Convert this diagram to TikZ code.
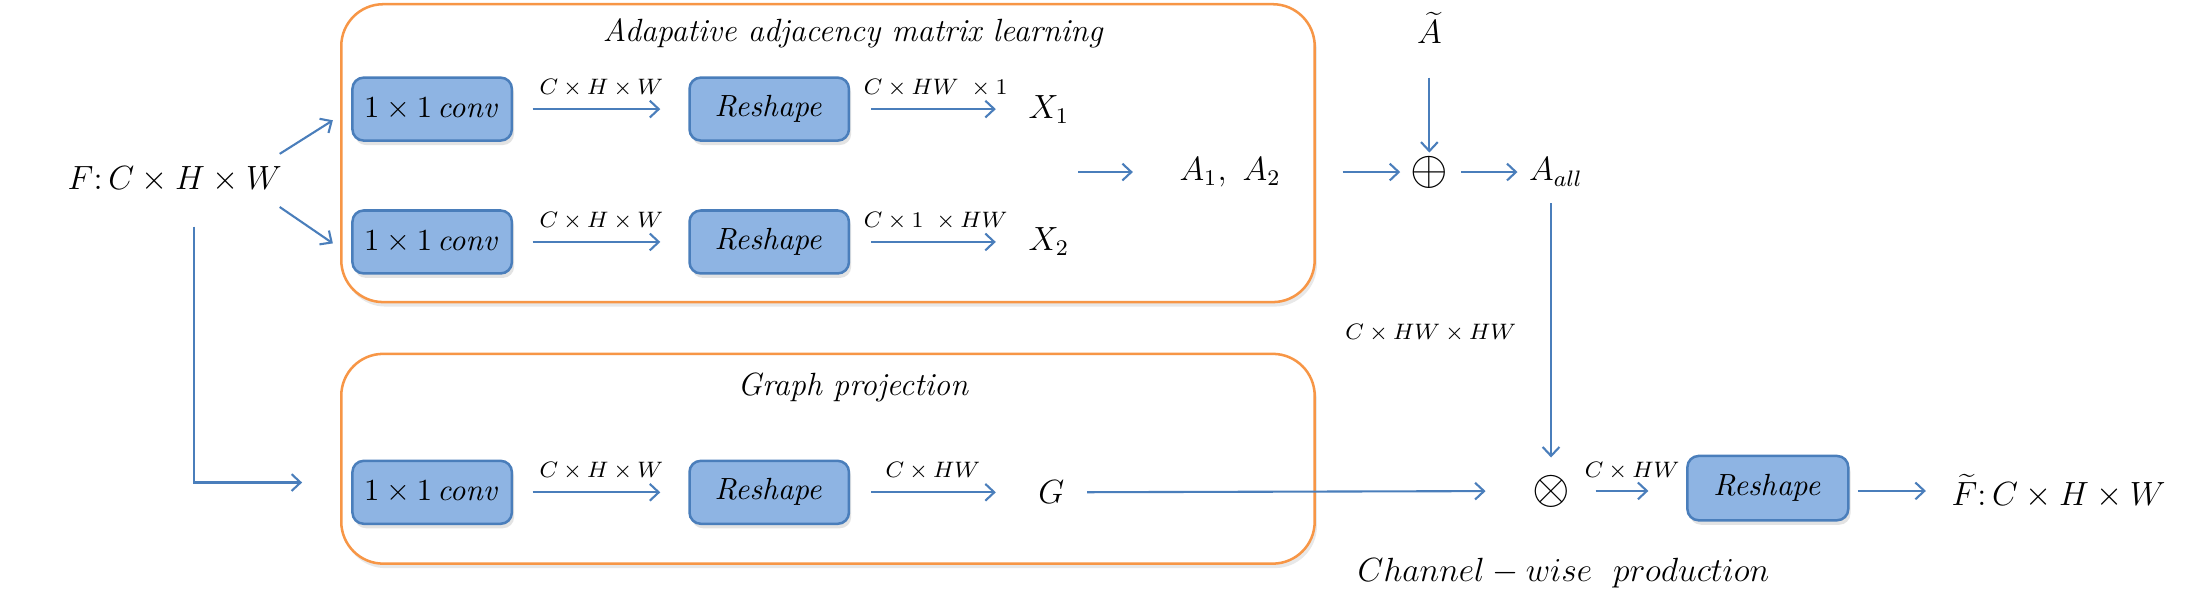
\documentclass[tikz,border=0pt]{standalone}
\usetikzlibrary{arrows.meta,shadows}
\definecolor{boxfill}{HTML}{8EB4E3}
\definecolor{boxline}{HTML}{4A7EBB}
\definecolor{arrowblue}{HTML}{4A7EBB}
\definecolor{frameorange}{HTML}{F79646}
\tikzset{
 opbox/.style={draw=boxline, fill=boxfill, line width=0.9pt, rounded corners=4pt,
   minimum width=57pt, minimum height=22.5pt, inner sep=0pt,
   font=\fontsize{11.2}{13}\selectfont,
   drop shadow={shadow xshift=0.8pt, shadow yshift=-1.6pt, opacity=0.22}},
 frame/.style={draw=frameorange, fill=white, line width=0.9pt, rounded corners=15pt,
   minimum width=348pt, inner sep=0pt,
   drop shadow={shadow xshift=0.8pt, shadow yshift=-1.6pt, opacity=0.18}},
 txt/.style={inner sep=0pt, font=\fontsize{11.5}{13}\selectfont},
 opsym/.style={inner sep=0pt, font=\fontsize{17}{17}\selectfont},
 dimlabel/.style={inner sep=0pt, font=\fontsize{8}{9}\selectfont},
 arr/.style={draw=arrowblue, line width=0.75pt, -{Straight Barb[length=3.2pt,width=6pt]}},
}
\begin{document}
\begin{tikzpicture}[x=0.5pt,y=-0.5pt]
\useasboundingbox (0,0) rectangle (1568,430);
% frames
\node[frame, minimum height=106.5pt] (topframe) at (592,109.5) {};
\node[frame, minimum height=75pt] (botframe) at (592,328) {};
% titles
\node[txt] (title1) at (610,24) {\textit{Adapative adjacency matrix learning}};
\node[txt] (title2) at (610,277) {\textit{Graph projection}};
% input
\node[txt, anchor=west] (F) at (48,128) {$F\colon C\times H\times W$};
% row 1
\node[opbox] (conv1) at (309,78) {$1\times 1\,\mathit{conv}$};
\node[opbox] (resh1) at (550,78) {$\mathit{Reshape}$};
\node[txt, anchor=west] (X1) at (735,78) {$X_1$};
% row 2
\node[opbox] (conv2) at (309,173) {$1\times 1\,\mathit{conv}$};
\node[opbox] (resh2) at (550,173) {$\mathit{Reshape}$};
\node[txt, anchor=west] (X2) at (735,173) {$X_2$};
% row 3
\node[opbox] (conv3) at (309,352) {$1\times 1\,\mathit{conv}$};
\node[opbox] (resh3) at (550,352) {$\mathit{Reshape}$};
\node[txt, anchor=west] (G) at (742,352) {$G$};
% dimension labels
\node[dimlabel] (l1) at (430,63) {$C\times H\times W$};
\node[dimlabel] (l2) at (669,63) {$C\times HW\ \times 1$};
\node[dimlabel] (l3) at (430,158) {$C\times H\times W$};
\node[dimlabel] (l4) at (669,158) {$C\times 1\ \times HW$};
\node[dimlabel] (l5) at (430,337) {$C\times H\times W$};
\node[dimlabel] (l6) at (667,337) {$C\times HW$};
\node[dimlabel] (l7) at (1167,337) {$C\times HW$};
\node[dimlabel] (l8) at (1023,238) {$C\times HW\times HW$};
% adjacency part
\node[txt, anchor=west] (A12) at (843,123) {$A_1,\ A_2$};
\node[opsym] (plus) at (1022,123) {$\oplus$};
\node[txt] (At) at (1022,20) {$\widetilde{A}$};
\node[txt, anchor=west] (Aall) at (1093,123) {$A_{all}$};
% output part
\node[opsym] (otimes) at (1109,351) {$\otimes$};
\node[opbox, minimum width=57.5pt, minimum height=23pt] (resh4) at (1264,349) {$\mathit{Reshape}$};
\node[txt, anchor=west] (Ft) at (1395,351) {$\widetilde{F}\colon C\times H\times W$};
\node[txt] (cwp) at (1118,410) {$Channel - wise\ \ production$};
% free ends
\coordinate (f1s) at (200,110);
\coordinate (f1e) at (238,86);
\coordinate (f2s) at (200,148);
\coordinate (f2e) at (238,174);
\coordinate (fd) at (139,162);
\coordinate (fg) at (216,345);
\coordinate (a12in) at (771,123);
\coordinate (plusin) at (960,123);
% connectors
\draw[arr] (f1s) -- (f1e);
\draw[arr] (f2s) -- (f2e);
\draw[arr] (fd) |- (fg);
\foreach \c/\r/\x in {conv1/resh1/X1, conv2/resh2/X2}{
  \draw[arr, shorten <=7pt, shorten >=10pt] (\c) -- (\r);
  \draw[arr, shorten <=7.5pt, shorten >=11.5pt] (\r) -- (\x);
}
\draw[arr, shorten <=7pt, shorten >=10pt] (conv3) -- (resh3);
\draw[arr, shorten <=7.5pt, shorten >=15pt] (resh3) -- (G);
\draw[arr, shorten >=16.5pt] (a12in) -- (A12);
\draw[arr, shorten >=3.5pt] (plusin) -- (plus);
\draw[arr, shorten <=12pt, shorten >=1pt] (At) -- (plus);
\draw[arr, shorten <=4.5pt, shorten >=4pt] (plus) -- (Aall);
\draw[arr, shorten <=6pt, shorten >=6pt] (otimes |- Aall.south) -- (otimes.north);
\draw[arr, shorten <=8pt, shorten >=16.5pt] (G) -- (otimes);
\draw[arr, shorten <=9pt, shorten >=13.5pt] (otimes.east) -- (otimes -| resh4.west);
\draw[arr, shorten <=3pt, shorten >=9pt] (resh4.east |- Ft.west) -- (Ft.west);
\end{tikzpicture}
\end{document}
